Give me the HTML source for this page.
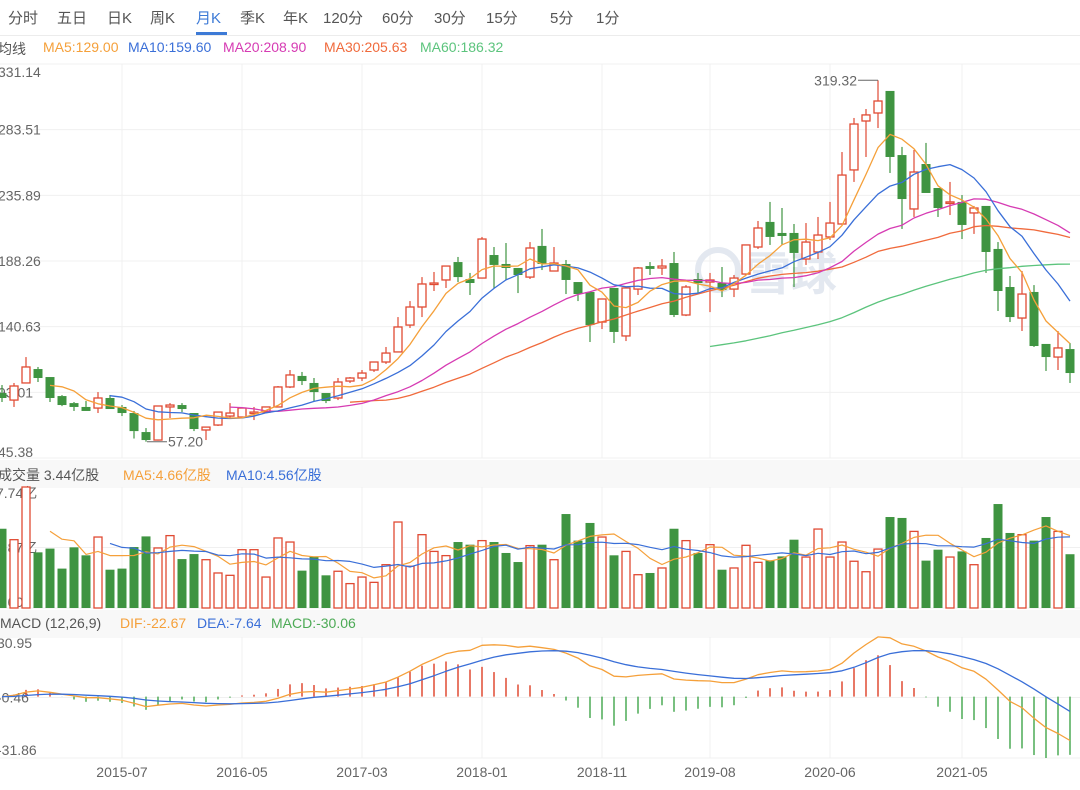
<!DOCTYPE html>
<html><head><meta charset="utf-8">
<style>
html,body{margin:0;padding:0;background:#fff;width:1080px;height:790px;overflow:hidden;font-family:"Liberation Sans","Noto Sans CJK SC",sans-serif;}
#tabs{position:absolute;left:0;top:0;width:1080px;height:35px;border-bottom:1px solid #ececec;}
.tab{position:absolute;top:7px;font-size:15px;color:#555;cursor:pointer;}
.tab.active{color:#3d7ad6;}
#uline{position:absolute;left:196px;top:32px;width:31px;height:3px;background:#3d7ad6;}
.hdr{position:absolute;left:0;width:1080px;font-size:14px;white-space:nowrap;}
svg{position:absolute;left:0;top:0;}
</style></head><body>
<div id="tabs">
<span class="tab" style="left:8px">分时</span>
<span class="tab" style="left:57px">五日</span>
<span class="tab" style="left:107px">日K</span>
<span class="tab" style="left:150px">周K</span>
<span class="tab active" style="left:196px">月K</span>
<span class="tab" style="left:240px">季K</span>
<span class="tab" style="left:283px">年K</span>
<span class="tab" style="left:323px">120分</span>
<span class="tab" style="left:382px">60分</span>
<span class="tab" style="left:434px">30分</span>
<span class="tab" style="left:486px">15分</span>
<span class="tab" style="left:550px">5分</span>
<span class="tab" style="left:596px">1分</span>
<div id="uline"></div>
</div>
<div class="hdr" style="top:39px;height:20px;">
<span style="position:absolute;left:-2px;color:#555">均线</span>
<span style="position:absolute;left:43px;color:#f5a03a">MA5:129.00</span>
<span style="position:absolute;left:128px;color:#3a6fd8">MA10:159.60</span>
<span style="position:absolute;left:223px;color:#d63bb3">MA20:208.90</span>
<span style="position:absolute;left:324px;color:#f06a3c">MA30:205.63</span>
<span style="position:absolute;left:420px;color:#5cc47d">MA60:186.32</span>
</div>
<div class="hdr" style="top:460px;height:26px;background:#f8f8f8;">
<span style="position:absolute;left:-2px;top:5px;color:#555">成交量 3.44亿股</span>
<span style="position:absolute;left:123px;top:5px;color:#f5a03a">MA5:4.66亿股</span>
<span style="position:absolute;left:226px;top:5px;color:#3a6fd8">MA10:4.56亿股</span>
</div>
<div class="hdr" style="top:610px;height:26px;background:#f8f8f8;">
<span style="position:absolute;left:0px;top:5px;color:#555">MACD (12,26,9)</span>
<span style="position:absolute;left:120px;top:5px;color:#f5a03a">DIF:-22.67</span>
<span style="position:absolute;left:197px;top:5px;color:#3a6fd8">DEA:-7.64</span>
<span style="position:absolute;left:271px;top:5px;color:#4caa55">MACD:-30.06</span>
</div>
<svg id="chart" width="1080" height="790"></svg>
<script>
const months=["2014-09","2014-10","2014-11","2014-12","2015-01","2015-02","2015-03","2015-04","2015-05","2015-06","2015-07","2015-08","2015-09","2015-10","2015-11","2015-12","2016-01","2016-02","2016-03","2016-04","2016-05","2016-06","2016-07","2016-08","2016-09","2016-10","2016-11","2016-12","2017-01","2017-02","2017-03","2017-04","2017-05","2017-06","2017-07","2017-08","2017-09","2017-10","2017-11","2017-12","2018-01","2018-02","2018-03","2018-04","2018-05","2018-06","2018-07","2018-08","2018-09","2018-10","2018-11","2018-12","2019-01","2019-02","2019-03","2019-04","2019-05","2019-06","2019-07","2019-08","2019-09","2019-10","2019-11","2019-12","2020-01","2020-02","2020-03","2020-04","2020-05","2020-06","2020-07","2020-08","2020-09","2020-10","2020-11","2020-12","2021-01","2021-02","2021-03","2021-04","2021-05","2021-06","2021-07","2021-08","2021-09","2021-10","2021-11","2021-12","2022-01","2022-02"];
const openP=[92.5,87.4,99.8,109.9,104.1,90.3,85.2,82.4,81.6,88.9,82.4,78.0,64.2,58.4,82.4,83.8,78.0,65.7,69.3,75.8,75.1,78.0,78.7,82.4,96.9,104.9,99.8,92.5,88.9,101.2,103.4,109.2,115.0,122.3,141.8,154.9,171.6,174.5,187.5,175.2,175.9,192.6,186.1,183.2,176.6,199.2,181.0,186.1,173.0,165.8,144.0,168.7,133.9,167.9,184.6,183.2,186.8,149.1,175.2,173.0,172.3,167.9,178.8,198.4,216.6,208.6,208.6,189.7,194.8,205.7,215.1,254.3,289.8,295.6,311.6,265.1,226.0,258.6,241.2,230.3,231.1,223.1,228.2,197.0,169.4,146.9,165.8,128.1,118.6,124.4];
const highP=[98.3,99.8,118.6,111.4,104.1,91.0,86.0,86.7,93.2,91.1,83.8,79.5,67.1,83.1,85.2,85.2,78.0,67.8,78.7,85.2,81.6,82.4,82.4,97.6,109.2,107.8,103.4,92.5,103.4,104.1,109.2,115.0,125.9,147.6,159.2,176.6,180.3,184.6,191.2,179.6,205.7,198.4,201.3,183.2,202.0,211.5,198.4,189.0,173.0,165.8,160.7,168.7,168.7,183.9,187.5,189.7,194.8,170.8,179.6,179.6,183.9,178.1,199.9,217.3,231.1,226.7,215.1,215.8,220.2,231.1,267.3,292.0,298.5,319.32,311.6,271.0,268.8,273.9,241.2,245.6,236.1,228.2,228.2,202.0,177.4,181.0,170.8,128.1,137.5,128.8];
const lowP=[86.0,82.4,99.8,100.5,86.0,83.0,79.5,79.5,78.0,80.9,75.8,59.5,57.2,58.0,74.4,78.7,64.9,58.4,68.6,74.4,74.4,72.9,78.0,82.4,96.1,98.3,86.7,85.2,87.4,99.8,101.2,107.8,113.6,122.3,139.7,147.6,166.5,168.7,173.0,163.6,175.9,168.7,174.5,165.0,175.2,181.7,181.0,164.3,159.2,129.5,138.9,128.8,130.2,163.6,178.1,178.1,147.6,148.3,165.0,151.2,162.1,162.1,178.1,197.0,199.9,199.9,169.4,185.4,189.7,203.5,215.1,245.6,263.7,284.7,252.1,211.5,220.2,237.6,220.2,221.6,204.2,207.9,179.6,152.0,144.0,137.5,125.9,108.5,109.2,99.8];
const closeP=[88.9,97.6,111.4,103.4,88.9,83.8,82.4,79.5,88.9,80.9,78.0,64.9,58.4,83.1,83.8,80.9,66.4,67.8,78.7,78.0,81.6,78.7,82.4,96.9,105.6,101.2,93.2,86.7,100.5,103.4,107.0,115.0,121.5,140.4,154.9,171.6,172.3,184.6,176.6,172.3,204.2,185.4,183.2,178.1,197.7,186.1,186.8,174.5,164.3,141.8,160.7,136.8,168.7,183.2,182.5,184.6,149.1,169.4,172.3,174.5,167.2,175.9,199.9,212.2,205.7,206.4,194.1,202.0,207.1,215.8,250.6,287.6,294.2,304.3,263.7,233.2,252.8,237.6,226.7,231.1,214.4,226.7,194.8,166.5,147.6,164.3,126.6,118.6,125.2,107.0];
const volumes=[5.07,4.37,7.74,3.56,3.80,2.52,3.88,3.37,4.54,2.45,2.52,3.90,4.58,3.84,4.63,3.13,3.45,3.09,2.24,2.09,3.73,3.73,1.98,4.48,4.22,2.39,3.30,2.09,2.35,1.56,1.98,1.64,2.77,5.50,2.67,4.69,3.62,3.35,4.22,4.05,4.31,4.22,3.52,2.94,3.99,4.05,3.09,6.01,4.31,5.44,4.54,3.37,3.62,2.13,2.24,2.56,5.07,4.31,3.52,4.05,2.45,2.56,4.01,2.92,3.05,3.30,4.37,3.26,5.05,3.26,4.22,2.99,2.32,3.77,5.82,5.76,4.90,3.03,3.73,3.26,3.62,2.77,4.48,6.65,4.80,4.69,4.31,5.82,4.90,3.44];
const priceTicks=["331.14","283.51","235.89","188.26","140.63","93.01","45.38"];
const volTicks=["7.74亿","3.87亿","0.00"];
const macdTicks=["30.95","-0.46","-31.86"];
const xTickLabels=["2015-07","2016-05","2017-03","2018-01","2018-11","2019-08","2020-06","2021-05"];

const NS="http://www.w3.org/2000/svg";
const svg=document.getElementById('chart');
const RED="#e04a33",GREEN="#3f9441";
const xOf=i=>2+12*i;
const P_MAX=331.14,P_MIN=45.38,P_TOP=64,P_BOT=458;
const yP=p=>P_TOP+(P_MAX-p)*(P_BOT-P_TOP)/(P_MAX-P_MIN);
const V_MAX=7.74,V_TOP=487,V_BOT=608;
const yV=v=>V_BOT-v*(V_BOT-V_TOP)/V_MAX;
const M_MAX=30.95,M_MIN=-31.86,M_TOP=637,M_BOT=758;
const yM=m=>M_TOP+(M_MAX-m)*(M_BOT-M_TOP)/(M_MAX-M_MIN);
function mk(tag,attrs,parent){const e=document.createElementNS(NS,tag);for(const k in attrs)e.setAttribute(k,attrs[k]);(parent||svg).appendChild(e);return e;}
function grp(){return mk('g',{});}

const gGrid=grp();


priceTicks.forEach((t,k)=>{const v=P_MAX-(P_MAX-P_MIN)*k/6;const y=yP(v);mk('line',{x1:0,x2:1080,y1:y,y2:y,stroke:'#f0f0f0','stroke-width':1},gGrid);});
[V_TOP,(V_TOP+V_BOT)/2,V_BOT].forEach(y=>mk('line',{x1:0,x2:1080,y1:y,y2:y,stroke:'#f0f0f0'},gGrid));
[M_TOP,yM(-0.46),M_BOT].forEach(y=>mk('line',{x1:0,x2:1080,y1:y,y2:y,stroke:'#f0f0f0'},gGrid));
xTickLabels.forEach(lbl=>{const i=months.indexOf(lbl);const x=xOf(i);
 [[P_TOP,P_BOT],[V_TOP,V_BOT],[M_TOP,M_BOT]].forEach(r=>mk('line',{x1:x,x2:x,y1:r[0],y2:r[1],stroke:'#f0f0f0'},gGrid));});

const gAx=grp();


priceTicks.forEach((t,k)=>{const v=P_MAX-(P_MAX-P_MIN)*k/6;let y=yP(v)+5;if(k===0)y=yP(v)+13;if(k===6)y=yP(v)-1;
 const e=mk('text',{x:-2,y:y,'font-size':14,fill:'#666'},gAx);e.textContent=t;
 
 });
volTicks.forEach((t,k)=>{const y=[V_TOP+11,(V_TOP+V_BOT)/2+5,V_BOT-1][k];
 const e=mk('text',{x:-4,y:y,'font-size':14,fill:'#666'},gAx);e.textContent=t;
 
 });
macdTicks.forEach((t,k)=>{const y=[M_TOP+11,yM(-0.46)+5,M_BOT-3][k];
 const e=mk('text',{x:-3,y:y,'font-size':14,fill:'#666'},gAx);e.textContent=t;
 
 });
xTickLabels.forEach(lbl=>{const i=months.indexOf(lbl);
 const e=mk('text',{x:xOf(i),y:777,'font-size':14,fill:'#666','text-anchor':'middle'},gAx);e.textContent=lbl;
 
 });

const gW=grp();


mk('circle',{cx:718,cy:270,r:20,fill:'none',stroke:'#e3e8f0','stroke-width':6},gW);
const wt=mk('text',{x:745,y:290,'font-size':46,fill:'#e3e8f0','font-weight':'bold'},gW);wt.textContent='雪球';

const gC=grp();


months.forEach((m,i)=>{
 const x=xOf(i),o=openP[i],c=closeP[i],h=highP[i],l=lowP[i];
 const up=c>=o,col=up?RED:GREEN;
 const g=mk('g',{},gC);
 
 
 const yt=yP(Math.max(o,c)),yb=yP(Math.min(o,c));
 mk('line',{x1:x,x2:x,y1:yP(h),y2:yt,stroke:col,'stroke-width':1.2},g);
 mk('line',{x1:x,x2:x,y1:yb,y2:yP(l),stroke:col,'stroke-width':1.2},g);
 const hh=Math.max(yb-yt,1.5);
 if(up) mk('rect',{x:x-4,y:yt,width:8,height:hh,fill:'#fff',stroke:col,'stroke-width':1.3},g);
 else mk('rect',{x:x-4.5,y:yt,width:9,height:hh,fill:col},g);
});

function ma(arr,n){return arr.map((v,i)=>{if(i<n-1)return null;let s=0;for(let k=i-n+1;k<=i;k++)s+=arr[k];return s/n;});}
function drawLine(vals,yf,col,name,w){
 let d='';vals.forEach((v,i)=>{if(v===null||v===undefined)return;d+=(d?'L':'M')+xOf(i).toFixed(1)+' '+yf(v).toFixed(1);});
 const p=mk('path',{d:d,fill:'none',stroke:col,'stroke-width':w||1.3,'stroke-linejoin':'round'});
 
 
 return p;}
drawLine(ma(closeP,60),yP,'#5cc47d','ma60-line');
drawLine(ma(closeP,30),yP,'#f06a3c','ma30-line');
drawLine(ma(closeP,20),yP,'#d63bb3','ma20-line');
drawLine(ma(closeP,10),yP,'#3a6fd8','ma10-line');
drawLine(ma(closeP,5),yP,'#f5a03a','ma5-line');

const gA=grp();


let hi=0,lo=0;highP.forEach((v,i)=>{if(v>highP[hi])hi=i;});lowP.forEach((v,i)=>{if(v<lowP[lo])lo=i;});
mk('line',{x1:xOf(hi)-20,x2:xOf(hi),y1:yP(highP[hi]),y2:yP(highP[hi]),stroke:'#666'},gA);
const th=mk('text',{x:xOf(hi)-21,y:yP(highP[hi])+5,'font-size':14,fill:'#666','text-anchor':'end'},gA);th.textContent=highP[hi].toFixed(2);
mk('line',{x1:xOf(lo)+1,x2:xOf(lo)+21,y1:yP(lowP[lo]),y2:yP(lowP[lo]),stroke:'#666'},gA);
const tl=mk('text',{x:xOf(lo)+22,y:yP(lowP[lo])+5,'font-size':14,fill:'#666'},gA);tl.textContent=lowP[lo].toFixed(2);

const gV=grp();


volumes.forEach((v,i)=>{const up=closeP[i]>=openP[i];const x=xOf(i),y=yV(v);
 const r=up?mk('rect',{x:x-4,y:y,width:8,height:V_BOT-y,fill:'#fff',stroke:RED,'stroke-width':1.3},gV)
          :mk('rect',{x:x-4.5,y:y,width:9,height:V_BOT-y,fill:GREEN},gV);
 
 });
drawLine(ma(volumes,5),yV,'#f5a03a','volume-ma5-line',1.2);
drawLine(ma(volumes,10),yV,'#3a6fd8','volume-ma10-line',1.2);

function ema(arr,n){const a=2/(n+1);const out=[];arr.forEach((v,i)=>out.push(i===0?v:out[i-1]+a*(v-out[i-1])));return out;}
const e12=ema(closeP,12),e26=ema(closeP,26);
const dif=e12.map((v,i)=>v-e26[i]);
const dea=ema(dif,9);
const hist=dif.map((v,i)=>2*(v-dea[i]));
const gM=grp();


const y0=yM(0);
hist.forEach((h,i)=>{const y=yM(Math.max(-31.86,Math.min(30.95,h)));
 const b=mk('line',{x1:xOf(i),x2:xOf(i),y1:y0,y2:y,stroke:h>=0?RED:'#4caa55','stroke-width':1.5},gM);
 
 });
drawLine(dif,yM,'#f5a03a','dif-line',1.3);
drawLine(dea,yM,'#3a6fd8','dea-line',1.3);
</script>
</body></html>
